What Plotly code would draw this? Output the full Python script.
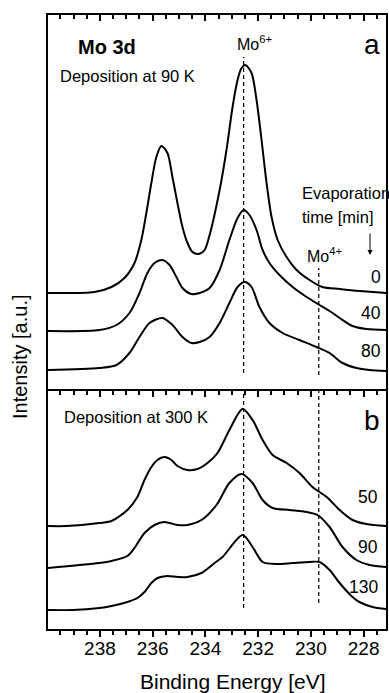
import plotly.graph_objects as go

FONT = "Liberation Sans, Arial, sans-serif"
W, H = 389, 693

# ---- Panel a: deposition at 90 K (binding energy eV, intensity a.u.) ----
a0_E = [239.99, 238.21, 237.56, 237.07, 236.69, 236.43, 236.24, 236.05, 235.86, 235.67,
        235.44, 235.25, 235.06, 234.87, 234.68, 234.49, 234.26, 234.03, 233.84, 233.46,
        233.20, 232.97, 232.78, 232.63, 232.48, 232.25, 232.06, 231.87, 231.68, 231.49,
        231.26, 230.92, 230.54, 230.05, 229.56, 228.91, 228.16, 227.13]
a0_I = [9.8, 9.9, 10.4, 11.3, 12.8, 15.1, 17.8, 20.8, 23.4, 24.5,
        23.8, 21.4, 18.8, 16.4, 14.8, 13.9, 13.7, 14.1, 15.6, 20.1,
        24.1, 28.4, 31.1, 32.3, 32.6, 31.8, 29.1, 25.1, 20.8, 17.4,
        15.1, 13.4, 12.1, 11.1, 10.4, 10.2, 10.0, 9.8]

a40_E = [239.99, 238.02, 237.37, 236.88, 236.50, 236.20, 235.93, 235.63, 235.36, 235.10,
         234.87, 234.53, 234.22, 233.84, 233.46, 233.09, 232.78, 232.55, 232.33, 232.06,
         231.83, 231.57, 231.19, 230.69, 230.16, 229.67, 229.29, 228.91, 228.42, 227.89,
         227.13]
a40_I = [6.0, 6.1, 6.6, 7.8, 9.8, 11.8, 12.8, 13.1, 12.6, 11.4,
         10.3, 9.7, 9.8, 10.3, 12.1, 15.1, 17.3, 18.1, 17.6, 16.1,
         14.1, 12.8, 11.6, 10.4, 9.4, 8.6, 8.0, 7.3, 6.5, 6.2,
         6.1]

a80_E = [239.99, 238.02, 237.37, 236.88, 236.50, 236.12, 235.63, 235.25, 234.87, 234.53,
         234.22, 233.84, 233.46, 233.09, 232.78, 232.51, 232.25, 231.95, 231.57, 231.07,
         230.43, 229.78, 229.29, 228.80, 228.27, 227.77, 227.13]
a80_I = [2.1, 2.3, 2.6, 3.8, 5.4, 6.8, 7.3, 6.6, 5.4, 4.8,
         4.9, 5.4, 6.8, 8.8, 10.4, 10.9, 10.4, 8.4, 6.8, 5.8,
         5.1, 4.4, 3.8, 2.8, 2.3, 2.1, 2.0]

# ---- Panel b: deposition at 300 K ----
b50_E = [239.99, 239.27, 238.02, 237.56, 236.96, 236.58, 236.31, 236.05, 235.82, 235.55,
         235.29, 235.06, 234.68, 234.30, 233.92, 233.54, 233.09, 232.59, 232.21, 231.83,
         231.45, 230.92, 230.43, 229.94, 229.40, 228.91, 228.42, 227.89, 227.13]
b50_I = [10.3, 10.3, 10.6, 10.8, 11.9, 13.2, 14.9, 16.2, 16.9, 17.2,
         16.9, 16.3, 15.9, 16.0, 16.6, 17.6, 19.9, 22.0, 20.9, 18.9,
         17.4, 16.6, 15.6, 14.2, 13.2, 11.9, 10.9, 10.5, 10.3]

b90_E = [239.99, 238.02, 237.56, 236.96, 236.69, 236.31, 235.93, 235.55, 235.06, 234.68,
         234.15, 233.58, 233.09, 232.63, 232.21, 231.83, 231.45, 230.81, 230.16, 229.75,
         229.29, 228.80, 228.27, 227.77, 227.13]
b90_I = [6.1, 6.6, 6.8, 7.3, 8.1, 9.6, 10.4, 10.7, 10.4, 10.4,
         10.9, 12.4, 14.6, 15.5, 14.6, 12.9, 12.1, 11.9, 11.7, 11.4,
         10.2, 8.2, 6.9, 6.4, 6.2]

b130_E = [239.99, 239.04, 238.02, 237.56, 236.96, 236.58, 236.31, 236.05, 235.82, 235.44,
          235.06, 234.68, 234.15, 233.65, 233.35, 232.59, 232.21, 231.83, 231.30, 230.69,
          230.05, 229.67, 229.29, 228.91, 228.42, 228.16, 227.66, 227.13]
b130_I = [1.9, 1.9, 2.1, 2.3, 2.7, 3.1, 3.7, 4.6, 5.1, 5.3,
          5.2, 5.2, 5.6, 6.6, 7.2, 9.4, 8.2, 6.7, 6.5, 6.6,
          6.7, 6.7, 5.9, 4.6, 3.2, 2.7, 2.2, 2.0]

a_times = ["0", "40", "80"]
b_times = ["50", "90", "130"]

MO6_E = 232.55
MO4_E = 229.70
a_mo6_I = [1.8, 33.4]
a_mo4_I = [1.6, 12.3]
b_mo6_I = [2.1, 23.8]
b_mo4_I = [2.6, 23.8]

X_RANGE = [239.97, 227.15]
A_RANGE = [0, 37.6]
B_RANGE = [0, 23.8]

fig = go.Figure()
line = dict(color="black", width=2, shape="spline", smoothing=0.8)
for E, I in [(a0_E, a0_I), (a40_E, a40_I), (a80_E, a80_I)]:
    fig.add_trace(go.Scatter(x=E, y=I, mode="lines", line=line, xaxis="x2", yaxis="y2"))
for E, I in [(b50_E, b50_I), (b90_E, b90_I), (b130_E, b130_I)]:
    fig.add_trace(go.Scatter(x=E, y=I, mode="lines", line=line, xaxis="x", yaxis="y"))

dash = dict(color="black", width=1.2, dash="4px,3px")
fig.add_trace(go.Scatter(x=[MO6_E, MO6_E], y=a_mo6_I, mode="lines", line=dash, xaxis="x2", yaxis="y2"))
fig.add_trace(go.Scatter(x=[MO4_E, MO4_E], y=a_mo4_I, mode="lines", line=dash, xaxis="x2", yaxis="y2"))
fig.add_trace(go.Scatter(x=[MO6_E, MO6_E], y=b_mo6_I, mode="lines", line=dash, xaxis="x3", yaxis="y"))
fig.add_trace(go.Scatter(x=[MO4_E, MO4_E], y=b_mo4_I, mode="lines", line=dash, xaxis="x4", yaxis="y"))

xdom = [48 / W, 386 / W]
def xax(**kw):
    d = dict(range=X_RANGE, autorange=False, domain=xdom, showgrid=False, zeroline=False,
             showline=True, linecolor="black", linewidth=2, dtick=2, tick0=0,
             tickcolor="black", tickwidth=1.5, ticklen=6, automargin=False)
    d.update(kw)
    return d

def minor(kind):
    return dict(dtick=0.5, ticks=kind, ticklen=4, tickwidth=1.5, tickcolor="black")

def py(p):
    return 1 - p / H

fig.update_layout(
    width=W, height=H, margin=dict(l=0, r=0, t=0, b=0),
    paper_bgcolor="white", plot_bgcolor="white", showlegend=False,
    font=dict(family=FONT, color="black"),
    # lower panel: tick labels only
    xaxis=xax(anchor="y", side="bottom", ticks="", showticklabels=True,
              tickfont=dict(size=19, family=FONT, color="black"), ticklabelstandoff=1,
              minor=dict(ticks="")),
    # upper panel top edge: inward ticks
    xaxis2=xax(anchor="y2", side="top", ticks="inside", showticklabels=False,
               minor=minor("inside")),
    # lower panel top edge (panel divider): ticks pointing down
    xaxis3=xax(anchor="y", overlaying="x", side="top", ticks="inside", showticklabels=False,
               minor=minor("inside")),
    # lower panel bottom edge: outward ticks
    xaxis4=xax(anchor="y", overlaying="x", side="bottom", ticks="outside", showticklabels=False,
               minor=minor("outside")),
    yaxis=dict(domain=[py(629), py(391)], range=B_RANGE, autorange=False, showgrid=False,
               zeroline=False, showline=True, mirror=True, linecolor="black", linewidth=2,
               ticks="", showticklabels=False, automargin=False),
    yaxis2=dict(domain=[py(391), py(15)], range=A_RANGE, autorange=False, showgrid=False,
                zeroline=False, showline=True, mirror=True, linecolor="black", linewidth=2,
                ticks="", showticklabels=False, automargin=False),
)

def note(text, x, y, size, xanchor="center", bold=False, angle=0):
    fig.add_annotation(text=f"<b>{text}</b>" if bold else text, x=x / W, y=py(y),
                       xref="paper", yref="paper", showarrow=False, xanchor=xanchor,
                       yanchor="middle", textangle=angle,
                       font=dict(size=size, family=FONT, color="black"))

note("Mo 3d", 107, 47, 20, bold=True)
note("Deposition at 90 K", 128, 76, 16.5)
note("a", 372, 44, 28)
note("Mo<sup>6+</sup>", 254, 43, 16)
note("Mo<sup>4+</sup>", 324, 255, 16)
note("Evaporation", 300, 193, 16.5, xanchor="left")
note("time [min]", 300, 217, 16.5, xanchor="left")
for lab, yy in zip(a_times, [277, 313, 351]):
    note(lab, 383, yy, 17.5, xanchor="right")
note("Deposition at 300 K", 135.5, 417, 16.5)
note("b", 372, 420, 28)
for lab, yy in zip(b_times, [497, 547, 587]):
    note(lab, 380, yy, 17.5, xanchor="right")
note("Intensity [a.u.]", 20, 357, 20, angle=-90)
note("Binding Energy [eV]", 232.5, 681, 21)

fig.add_annotation(text="", x=370 / W, y=py(255), xref="paper", yref="paper",
                   ax=0, ay=-23, showarrow=True, arrowhead=2, arrowsize=1,
                   arrowwidth=1, arrowcolor="black")

fig.write_html("out.html")
